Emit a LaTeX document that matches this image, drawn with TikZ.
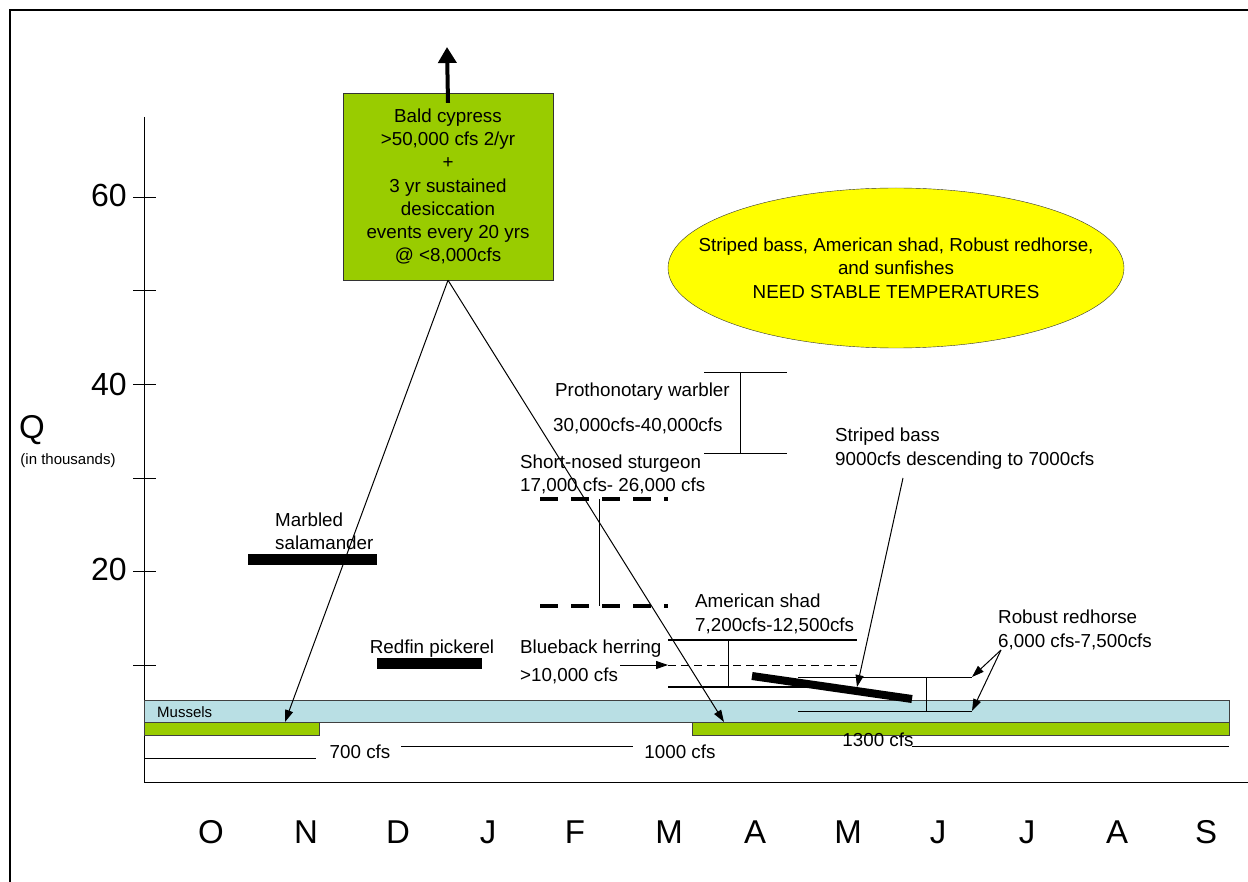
\documentclass[tikz,border=0pt]{standalone}
\usepackage{fontspec}
\setmainfont{Liberation Sans}
\usetikzlibrary{arrows.meta,shapes.geometric}
\definecolor{boxgreen}{HTML}{99CC00}
\definecolor{musselblue}{HTML}{B9DFE4}
\definecolor{ellyellow}{HTML}{FFFF00}
\begin{document}
\begin{tikzpicture}[x=1pt,y=-1pt,
  lbl/.style={font=\fontsize{18.8}{23.5}\selectfont, inner sep=0pt, align=left},
  lblc/.style={font=\fontsize{18.8}{23.3}\selectfont, inner sep=0pt, align=center},
  small/.style={font=\fontsize{15}{18}\selectfont, inner sep=0pt},
  ticklbl/.style={font=\fontsize{32}{36}\selectfont, inner sep=0pt, anchor=east},
  month/.style={font=\fontsize{33}{36}\selectfont, inner sep=0pt},
  thin/.style={line width=1pt},
  medline/.style={line width=2pt},
  tip/.style={-{Triangle[width=8pt,length=12pt]}},
  thickdash/.style={line width=4pt, dash pattern=on 18pt off 13pt},
]
\useasboundingbox (0,0) rectangle (1248,882);
\fill[white] (0,0) rectangle (1248,882);
% frame
\draw[line width=2.4pt] (10,882) -- (10,10) -- (1248,10);
% axes
\draw[thin] (144,117) -- (144,782) -- (1248,782);
\foreach \y in {198,291,385,478,571,665} \draw[thin] (133,\y) -- (156,\y);
\node[ticklbl] (t60) at (127,195) {60};
\node[ticklbl] (t40) at (127,384) {40};
\node[ticklbl] (t20) at (127,569) {20};
\node[font=\fontsize{33}{36}\selectfont, inner sep=0pt] (q) at (32,430) {Q};
\node[small] (qunit) at (68,461) {(in thousands)};
% months
\foreach \m/\x in {O/211,N/306,D/398,J/488,F/575,M/669,A/755,M/848,J/938,J/1027,A/1117,S/1206}
  \node[month] (mon-\x) at (\x,832) {\m};

% Mussels and green bars
\node[draw=black!75, fill=musselblue, minimum width=1085pt, minimum height=22pt, inner sep=0, anchor=north west] (mussels) at (144,700) {};
\node[small, anchor=west] (musselslbl) at (157,712) {Mussels};
\node[draw=black!75, fill=boxgreen, minimum width=175pt, minimum height=13pt, inner sep=0, anchor=north west] (greenL) at (144,722) {};
\node[draw=black!75, fill=boxgreen, minimum width=537pt, minimum height=13pt, inner sep=0, anchor=north west] (greenR) at (692,722) {};

% cfs lines
\node[lblc] (c700) at (360,752) {700 cfs};
\node[lblc] (c1000) at (680,752) {1000 cfs};
\node[lblc] (c1300) at (878,740) {1300 cfs};
\coordinate (l700a) at (144,758); \coordinate (l700b) at (316,758);
\coordinate (l1000a) at (401,746); \coordinate (l1000b) at (633,746);
\coordinate (l1300a) at (912,746); \coordinate (l1300b) at (1229,746);
\draw[thin] (l700a) -- (l700b);
\draw[thin] (l1000a) -- (l1000b);
\draw[thin] (l1300a) -- (l1300b);

% Bald cypress box
\node[draw=black!80, fill=boxgreen, minimum width=210pt, minimum height=187pt, inner sep=0pt, lblc] (bald) at (448,186.5)
  {Bald cypress\\>50,000 cfs 2/yr\\+\\3 yr sustained\\desiccation\\events every 20 yrs\\@ <8,000cfs};
\coordinate (uptip) at (447,47);
\draw[line width=4pt, -{Triangle[width=18pt,length=16pt]}] ([yshift=-10pt]bald.north) -- (uptip);

% Ellipse
\node[ellipse, draw=black!80, fill=ellyellow, minimum width=456pt, minimum height=160pt, inner sep=0pt] (ell) at (896,268) {};
\node[lblc] (elltext) at (ell.center) {Striped bass, American shad, Robust redhorse,\\and sunfishes\\NEED STABLE TEMPERATURES};

% Prothonotary warbler
\node[lbl, anchor=west] (pw1) at (555,392) {Prothonotary warbler};
\node[lbl, anchor=west] (pw2) at (553,426) {30,000cfs-40,000cfs};
\coordinate (pwa) at (704,373); \coordinate (pwb) at (787,373);
\coordinate (pwc) at (704,454); \coordinate (pwd) at (787,454);
\coordinate (pwt) at (740,373); \coordinate (pwbm) at (740,454);
\draw[thin] (pwa) -- (pwb);
\draw[thin] (pwc) -- (pwd);
\draw[thin] (pwt) -- (pwbm);

% Short-nosed sturgeon
\node[lbl, anchor=west] (sns) at (520,474.5) {Short-nosed sturgeon\\17,000 cfs- 26,000 cfs};
\coordinate (snsa) at (540,499); \coordinate (snsb) at (668,499);
\coordinate (snsc) at (540,606); \coordinate (snsd) at (668,606);
\coordinate (snst) at (599,499); \coordinate (snsm) at (599,606);
\draw[thickdash] (snsa) -- (snsb);
\draw[thickdash] (snsc) -- (snsd);
\draw[thin] (snst) -- (snsm);

% Marbled salamander
\node[lbl, anchor=west] (msl) at (275,531.5) {Marbled\\salamander};
\node[fill=black, minimum width=129pt, minimum height=11pt, inner sep=0, anchor=west] (msbar) at (248,559) {};

% Redfin pickerel
\node[lbl] (rpl) at (432,649) {Redfin pickerel};
\node[fill=black, minimum width=105pt, minimum height=11pt, inner sep=0, anchor=west] (rpbar) at (377,663.5) {};

% Blueback herring
\node[lbl, anchor=west] (bbh1) at (520,649) {Blueback herring};
\node[lbl, anchor=west] (bbh2) at (520,676) {>10,000 cfs};
\coordinate (bbs) at (620,665); \coordinate (bbt) at (668,665); \coordinate (bbe) at (857,665);
\draw[thin, tip] (bbs) -- (bbt);
\draw[thin, dash pattern=on 8pt off 5pt] (bbt) -- (bbe);

% American shad
\node[lbl, anchor=west] (ash) at (695,614) {American shad\\7,200cfs-12,500cfs};
\coordinate (asa) at (668,640); \coordinate (asb) at (857,640);
\coordinate (asc) at (668,687); \coordinate (asd) at (815,687);
\coordinate (ast) at (728,640); \coordinate (asm) at (728,687);
\draw[medline] (asa) -- (asb);
\draw[medline] (asc) -- (asd);
\draw[thin] (ast) -- (asm);

% Robust redhorse
\node[lbl, anchor=west] (rrh) at (998,630) {Robust redhorse\\6,000 cfs-7,500cfs};
\coordinate (rra) at (798,677); \coordinate (rrb) at (972,677);
\coordinate (rrc) at (798,711); \coordinate (rrd) at (972,711);
\coordinate (rrt) at (926,677); \coordinate (rrm) at (926,711);
\draw[thin] (rra) -- (rrb);
\draw[thin] (rrc) -- (rrd);
\draw[thin] (rrt) -- (rrm);
\coordinate (rrs) at (1001,650);
\draw[thin, tip] (rrs) -- (rrb);
\draw[thin, tip] (rrs) -- (rrd);

% Striped bass
\node[lbl, anchor=west] (sb) at (835,448.5) {Striped bass\\9000cfs descending to 7000cfs};
\coordinate (sba) at (752,676); \coordinate (sbb) at (912,699);
\draw[line width=8pt] (sba) -- (sbb);
\coordinate (sbs) at (903,478); \coordinate (sbt) at (857,687);
\draw[thin, tip] (sbs) -- (sbt);

% Diagonal connectors from Bald cypress box
\coordinate (musL) at (285,722);
\coordinate (musR) at (724,722);
\draw[thin, tip] (bald.south) -- (musL);
\draw[thin, tip] (bald.south) -- (musR);
\end{tikzpicture}
\end{document}
